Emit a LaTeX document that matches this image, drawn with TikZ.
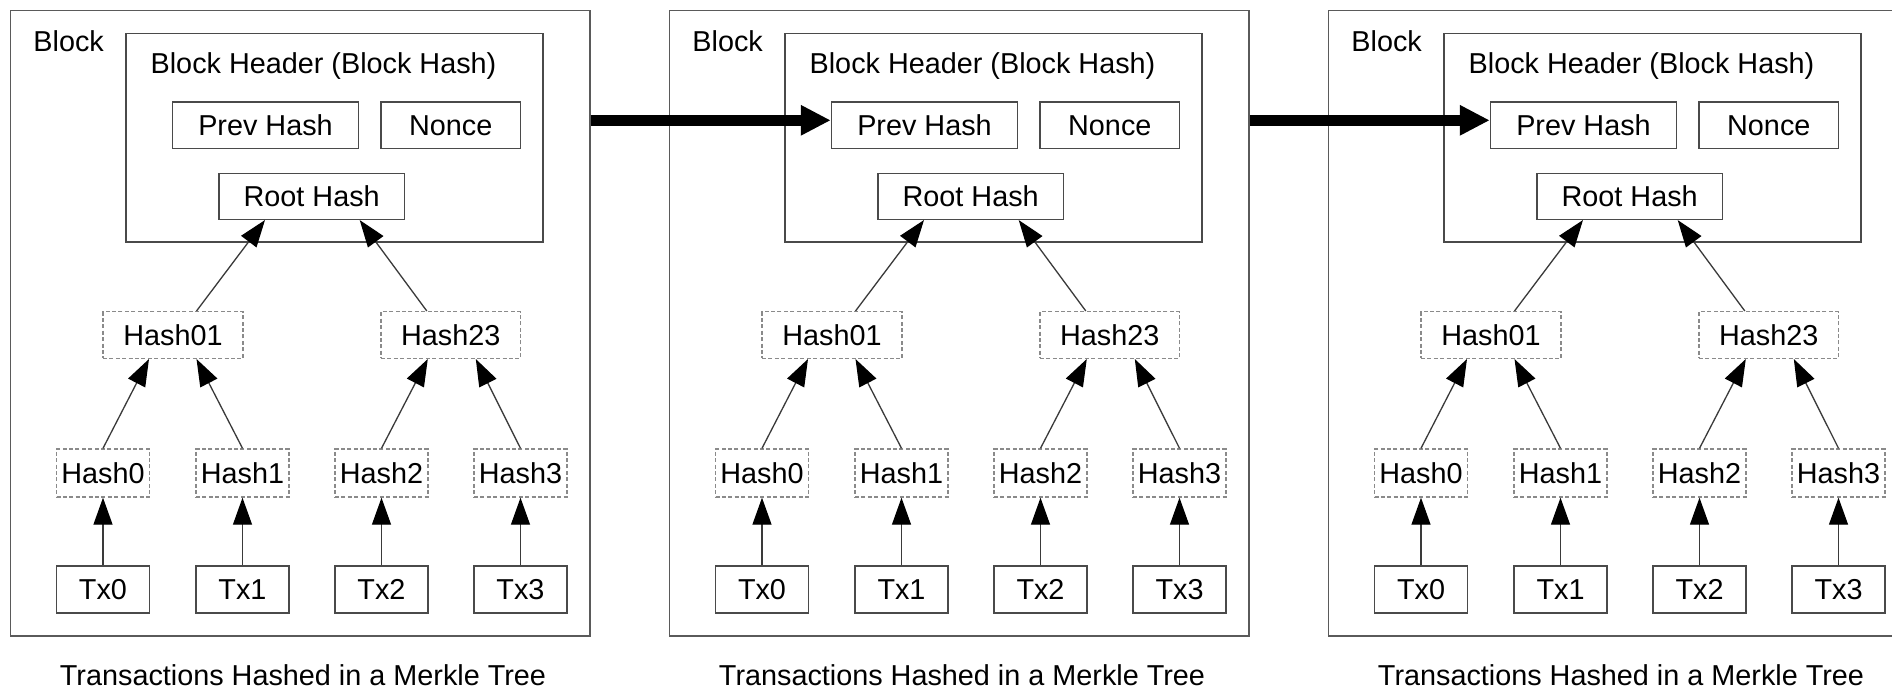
\documentclass[tikz,border=0pt]{standalone}
\usepackage{fontspec}
\setmainfont{Liberation Sans}
\usetikzlibrary{arrows.meta}
\definecolor{boxgray}{HTML}{4A4A4A}
\definecolor{outergray}{HTML}{5A5A5A}
\definecolor{dashgray}{HTML}{8A8A8A}
\definecolor{linegray}{HTML}{3A3A3A}
\begin{document}
\begin{tikzpicture}[x=0.5pt,y=-0.5pt,
  font=\fontsize{14.4pt}{17pt}\selectfont,
  box/.style={draw=boxgray, line width=0.75pt, inner sep=0pt},
  outerbox/.style={draw=outergray, line width=0.8pt, inner sep=0pt},
  dbox/.style={draw=dashgray, line width=0.7pt, dash pattern=on 2pt off 1.2pt, inner sep=0pt},
  sz/.style 2 args={minimum width=#1, minimum height=#2},
  arr/.style={draw=linegray, line width=0.65pt, -{Triangle[length=13.5pt,width=9.5pt,color=black]}},
  bigarr/.style={draw=black, line width=5.35pt, -{Triangle[length=15pt,width=14.25pt]}},
  lbl/.style={inner sep=0pt}
]
\path[use as bounding box, clip] (0,0) rectangle (1892,690);
\fill[white] (0,0) rectangle (1892,690);
\foreach \i/\dx in {1/0,2/659,3/1318}{
  \node[outerbox, sz={289.75pt}{312.5pt}] (b\i) at (\dx+300.25,323.2) {};
  \node[lbl, anchor=west] (b\i-lab) at (\dx+33,41.5) {Block};
  \node[box, sz={208.5pt}{104.35pt}] (b\i-hdr) at (\dx+334.5,137.65) {};
  \node[lbl, anchor=base] (b\i-title) at (\dx+323.5,74) {Block Header (Block Hash)};
  \node[box, sz={93pt}{23.25pt}] (b\i-prev) at (\dx+265.5,125.5) {Prev Hash};
  \node[box, sz={69.8pt}{23.25pt}] (b\i-nonce) at (\dx+450.8,125.5) {Nonce};
  \node[box, sz={92.65pt}{23pt}] (b\i-root) at (\dx+311.7,196.3) {Root Hash};
  \node[dbox, sz={70pt}{23.3pt}] (b\i-h01) at (\dx+173,335) {Hash01};
  \node[dbox, sz={69.8pt}{23.3pt}] (b\i-h23) at (\dx+450.8,335) {Hash23};
  \foreach \k/\cx in {0/103,1/242.5,2/381.5,3/520.5}{
    \node[dbox, sz={46.5pt}{24pt}] (b\i-h\k) at (\dx+\cx,473) {Hash\k};
    \node[box, sz={46.5pt}{23.5pt}] (b\i-tx\k) at (\dx+\cx,589.5) {Tx\k};
    \draw[arr] (b\i-tx\k.north) -- (b\i-h\k.south);
  }
  \draw[arr] (b\i-h0.north) -- ([xshift=-12pt]b\i-h01.south);
  \draw[arr] (b\i-h1.north) -- ([xshift=11.75pt]b\i-h01.south);
  \draw[arr] (b\i-h2.north) -- ([xshift=-11.5pt]b\i-h23.south);
  \draw[arr] (b\i-h3.north) -- ([xshift=12.5pt]b\i-h23.south);
  \draw[arr] ([xshift=11.75pt]b\i-h01.north) -- ([xshift=-23.35pt]b\i-root.south);
  \draw[arr] ([xshift=-12pt]b\i-h23.north) -- ([xshift=24pt]b\i-root.south);
  \node[lbl, anchor=base] (b\i-cap) at (\dx+303,685) {Transactions Hashed in a Merkle Tree};
}
\coordinate (ya) at (0,120.3);
\draw[bigarr] (b1.east |- ya) -- (b2-prev.west |- ya);
\draw[bigarr] (b2.east |- ya) -- (b3-prev.west |- ya);
\end{tikzpicture}
\end{document}
